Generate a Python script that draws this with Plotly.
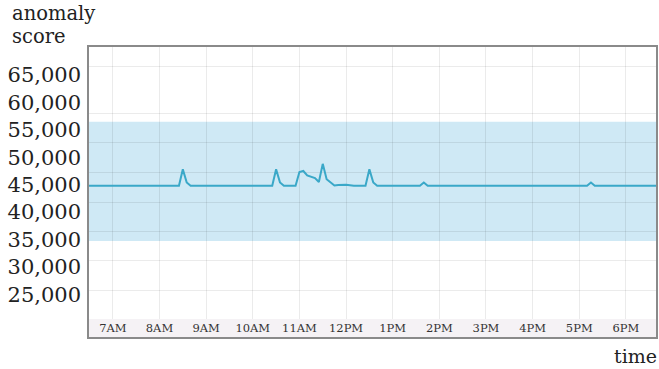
import plotly.graph_objects as go

# ---- data ----
times = ["06:28", "08:25", "08:30", "08:35", "08:40",
         "10:25", "10:30", "10:35", "10:40",
         "10:55", "11:00", "11:05", "11:10", "11:15", "11:20", "11:25", "11:30",
         "11:35", "11:40", "11:45", "11:50", "11:55", "12:00", "12:05", "12:10",
         "12:25", "12:30", "12:35", "12:40",
         "13:35", "13:40", "13:45",
         "17:10", "17:15", "17:20",
         "18:40"]
scores = [44800, 44800, 47800, 45400, 44800,
          44800, 47800, 45400, 44800,
          44800, 47300, 47500, 46700, 46400, 46200, 45500, 48800,
          46000, 45400, 44850, 44950, 45000, 45000, 44900, 44800,
          44800, 47800, 45400, 44800,
          44800, 45400, 44800,
          44800, 45400, 44800,
          44800]
band_low = 34730
band_high = 56500
y_tick_values = [25000, 30000, 35000, 40000, 45000, 50000, 55000, 60000, 65000]
grid_values = [25780, 31080, 36550, 41840, 47140, 52610, 58080, 66660]
hour_ticks = ["07:00", "08:00", "09:00", "10:00", "11:00", "12:00",
              "13:00", "14:00", "15:00", "16:00", "17:00", "18:00"]
hour_labels = ["7AM", "8AM", "9AM", "10AM", "11AM", "12PM",
               "1PM", "2PM", "3PM", "4PM", "5PM", "6PM"]
day = "2024-01-01 "
y_range = [20490, 70310]
x_range = [day + "06:28", day + "18:40"]

FONT = "DejaVu Serif"
W, H = 659, 369
ML, MR, MT, MB = 88, 2, 46, 50
PH = H - MT - MB

fig = go.Figure()
fig.add_trace(go.Scatter(
    x=[day + t for t in times], y=scores, mode="lines",
    line=dict(color="#3aa8c8", width=2), hoverinfo="skip", showlegend=False))
# invisible trace to hold the labelled axis
fig.add_trace(go.Scatter(x=[day + times[0]], y=[scores[0]], yaxis="y2",
                         mode="markers", marker=dict(opacity=0),
                         showlegend=False, hoverinfo="skip"))

fig.add_shape(type="rect", xref="paper", yref="y", x0=0, x1=1,
              y0=band_low, y1=band_high, fillcolor="#cfe9f5",
              line=dict(width=0), layer="below")
band_h = (338 - 319) / PH
fig.add_shape(type="rect", xref="paper", yref="paper", x0=0, x1=1,
              y0=-band_h, y1=0, fillcolor="#f5f2f5", line=dict(width=0),
              layer="below")
fig.add_shape(type="rect", xref="paper", yref="paper", x0=0, x1=1,
              y0=-band_h, y1=1, line=dict(color="#8a8a8a", width=2),
              fillcolor="rgba(0,0,0,0)", layer="above")

fig.update_layout(
    width=W, height=H,
    margin=dict(l=ML, r=MR, t=MT, b=MB),
    paper_bgcolor="white", plot_bgcolor="white",
    font=dict(family=FONT, color="#222"),
    xaxis=dict(type="date", range=x_range,
               tickvals=[day + t for t in hour_ticks], ticktext=hour_labels,
               showgrid=True, gridcolor="rgba(0,0,0,0.08)", gridwidth=1,
               zeroline=False, showline=False, ticks="",
               tickfont=dict(family=FONT, size=11.5, color="#333"),
               ticklabelstandoff=0),
    yaxis=dict(range=y_range, tickvals=grid_values, showticklabels=False,
               showgrid=True, gridcolor="rgba(0,0,0,0.08)", gridwidth=1,
               zeroline=False, showline=False, ticks=""),
    yaxis2=dict(range=y_range, overlaying="y", side="left",
                tickvals=y_tick_values, tickformat=",",
                showgrid=False, zeroline=False, showline=False, ticks="",
                tickfont=dict(family=FONT, size=21, color="#222"),
                ticklabelstandoff=6),
)

def px_y(p):
    return (H - MB - p) / PH

fig.add_annotation(text="anomaly", xref="paper", yref="paper",
                   x=(10 - ML) / (W - ML - MR), y=px_y(14), xanchor="left",
                   yanchor="middle", showarrow=False,
                   font=dict(family=FONT, size=19.5, color="#222"))
fig.add_annotation(text="score", xref="paper", yref="paper",
                   x=(10 - ML) / (W - ML - MR), y=px_y(37), xanchor="left",
                   yanchor="middle", showarrow=False,
                   font=dict(family=FONT, size=19.5, color="#222"))
fig.add_annotation(text="time", xref="paper", yref="paper",
                   x=(659 - ML) / (W - ML - MR), y=px_y(356), xanchor="right",
                   yanchor="middle", showarrow=False,
                   font=dict(family=FONT, size=19, color="#222"))

fig.write_html("out.html",
               config={"displayModeBar": False},
               post_script="document.body.style.margin='0';"
                           "document.body.style.overflow='hidden';")
